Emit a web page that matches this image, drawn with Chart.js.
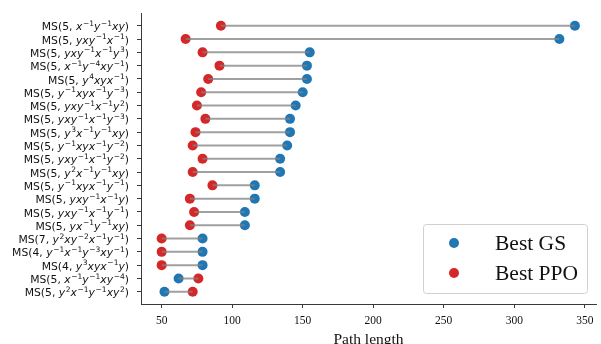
<!DOCTYPE html>
<html>
<head>
<meta charset="utf-8">
<script src="https://cdn.jsdelivr.net/npm/chart.js@4.4.0/dist/chart.umd.min.js"></script>
<style>
  html, body { margin: 0; padding: 0; background: #fff; }
  #wrap { width: 601px; height: 344px; }
</style>
</head>
<body>
<div id="wrap"><canvas id="chart" width="601" height="344"></canvas></div>
<script>
// group labels, top to bottom ("^" marks an exponent)
const yLabels = [
  'MS(5, x^-1y^-1xy)',
  'MS(5, yxy^-1x^-1)',
  'MS(5, yxy^-1x^-1y^3)',
  'MS(5, x^-1y^-4xy^-1)',
  'MS(5, y^4xyx^-1)',
  'MS(5, y^-1xyx^-1y^-3)',
  'MS(5, yxy^-1x^-1y^2)',
  'MS(5, yxy^-1x^-1y^-3)',
  'MS(5, y^3x^-1y^-1xy)',
  'MS(5, y^-1xyx^-1y^-2)',
  'MS(5, yxy^-1x^-1y^-2)',
  'MS(5, y^2x^-1y^-1xy)',
  'MS(5, y^-1xyx^-1y^-1)',
  'MS(5, yxy^-1x^-1y)',
  'MS(5, yxy^-1x^-1y^-1)',
  'MS(5, yx^-1y^-1xy)',
  'MS(7, y^2xy^-2x^-1y^-1)',
  'MS(4, y^-1x^-1y^-3xy^-1)',
  'MS(4, y^3xyx^-1y)',
  'MS(5, x^-1y^-1xy^-4)',
  'MS(5, y^2x^-1y^-1xy^2)'
];
const gsLengths  = [343, 332, 155, 153, 153, 150, 145, 141, 141, 139, 134, 134, 116, 116, 109, 109, 79, 79, 79, 62, 52];
const ppoLengths = [92, 67, 79, 91, 83, 78, 75, 81, 74, 72, 79, 72, 86, 70, 73, 70, 50, 50, 50, 76, 72];
const xTicks = [50, 100, 150, 200, 250, 300, 350];

const BLUE = '#1f77b4';
const RED = '#d62728';
const AXIS = '#3a3a3a';

// one gray segment per row, broken by null points
const segments = [];
gsLengths.forEach((g, i) => {
  segments.push({ x: g, y: i }, { x: ppoLengths[i], y: i }, { x: g, y: null });
});

/* rich y labels: plain prefix, italic letters, raised exponents */
const richYLabels = {
  id: 'richYLabels',
  afterDraw(chart) {
    const { ctx } = chart;
    const y = chart.scales.y;
    const base = '10.8px "DejaVu Sans"';
    const ital = 'italic 10.8px "DejaVu Sans"';
    const supNum = '7.5px "DejaVu Sans"';
    ctx.save();
    ctx.fillStyle = '#111';
    ctx.textBaseline = 'alphabetic';
    yLabels.forEach((label, i) => {
      const m = label.match(/^(.*?, )(.*)\)$/);
      const pieces = [{ t: m[1], font: base, dy: 0 }];
      const re = /([a-z])(?:\^(-?\d+))?/g;
      let r;
      while ((r = re.exec(m[2]))) {
        pieces.push({ t: r[1], font: ital, dy: 0 });
        if (r[2]) pieces.push({ t: r[2].replace('-', '\u2212'), font: supNum, dy: -4.5, pre: 0.6 });
      }
      pieces.push({ t: ')', font: base, dy: 0 });
      let w = 0;
      pieces.forEach(p => {
        ctx.font = p.font;
        p.w = ctx.measureText(p.t).width + (p.pre || 0);
        w += p.w;
      });
      let x = 129 - w;
      const yb = y.getPixelForValue(i) + 4.6;
      pieces.forEach(p => {
        ctx.font = p.font;
        ctx.fillText(p.t, x + (p.pre || 0), yb + p.dy);
        x += p.w;
      });
    });
    ctx.restore();
  }
};

/* legend box in the lower right of the plot */
const legendBox = {
  id: 'legendBox',
  afterDraw(chart) {
    const { ctx } = chart;
    const items = chart.data.datasets.filter(d => d.label);
    const bx = 423, by = 224, bw = 164, bh = 69;
    ctx.save();
    ctx.beginPath();
    ctx.roundRect(bx + 0.5, by + 0.5, bw, bh, 3);
    ctx.fillStyle = 'rgba(255,255,255,0.85)';
    ctx.fill();
    ctx.strokeStyle = '#d0d0d0';
    ctx.lineWidth = 1;
    ctx.stroke();
    ctx.font = '21.5px "Liberation Serif"';
    ctx.textBaseline = 'middle';
    items.forEach((d, k) => {
      const cy = by + 19 + k * 30;
      ctx.beginPath();
      ctx.arc(454, cy, 5, 0, Math.PI * 2);
      ctx.fillStyle = d.backgroundColor;
      ctx.fill();
      ctx.fillStyle = '#111';
      ctx.fillText(d.label, 495, cy + 1);
    });
    ctx.restore();
  }
};

new Chart(document.getElementById('chart'), {
  type: 'scatter',
  data: {
    datasets: [
      {
        data: segments,
        showLine: true,
        spanGaps: false,
        borderColor: 'rgba(128,128,128,0.75)',
        borderWidth: 2,
        pointRadius: 0
      },
      {
        label: 'Best GS',
        data: gsLengths.map((v, i) => ({ x: v, y: i })),
        backgroundColor: BLUE,
        borderColor: BLUE,
        pointRadius: 5,
        borderWidth: 0
      },
      {
        label: 'Best PPO',
        data: ppoLengths.map((v, i) => ({ x: v, y: i })),
        backgroundColor: RED,
        borderColor: RED,
        pointRadius: 5,
        borderWidth: 0
      }
    ]
  },
  options: {
    responsive: false,
    animation: false,
    devicePixelRatio: 1,
    layout: { padding: { top: 13.5, right: 3, left: 0, bottom: 0 } },
    plugins: { legend: { display: false }, tooltip: { enabled: false } },
    scales: {
      x: {
        type: 'linear',
        min: 35.35,
        max: 357.95,
        afterBuildTicks: s => { s.ticks = xTicks.map(v => ({ value: v })); },
        afterFit: s => { s.height = 40; },
        grid: { drawOnChartArea: false, drawTicks: true, tickLength: 4, color: AXIS },
        border: { display: true, color: AXIS, width: 1 },
        ticks: { color: '#111', padding: 6, maxRotation: 0, font: { family: 'Liberation Serif', size: 11.5 } },
        title: {
          display: true,
          text: 'Path length',
          color: '#111',
          padding: { top: 0, bottom: -5.5 },
          font: { family: 'Liberation Serif', size: 15.5 }
        }
      },
      y: {
        type: 'linear',
        reverse: true,
        min: -0.92,
        max: 20.92,
        afterBuildTicks: s => { s.ticks = yLabels.map((_, i) => ({ value: i })); },
        afterFit: s => { s.width = 141; },
        grid: { drawOnChartArea: false, drawTicks: true, tickLength: 4, color: AXIS },
        border: { display: true, color: AXIS, width: 1 },
        ticks: { display: false }
      }
    }
  },
  plugins: [richYLabels, legendBox]
});
</script>
</body>
</html>
